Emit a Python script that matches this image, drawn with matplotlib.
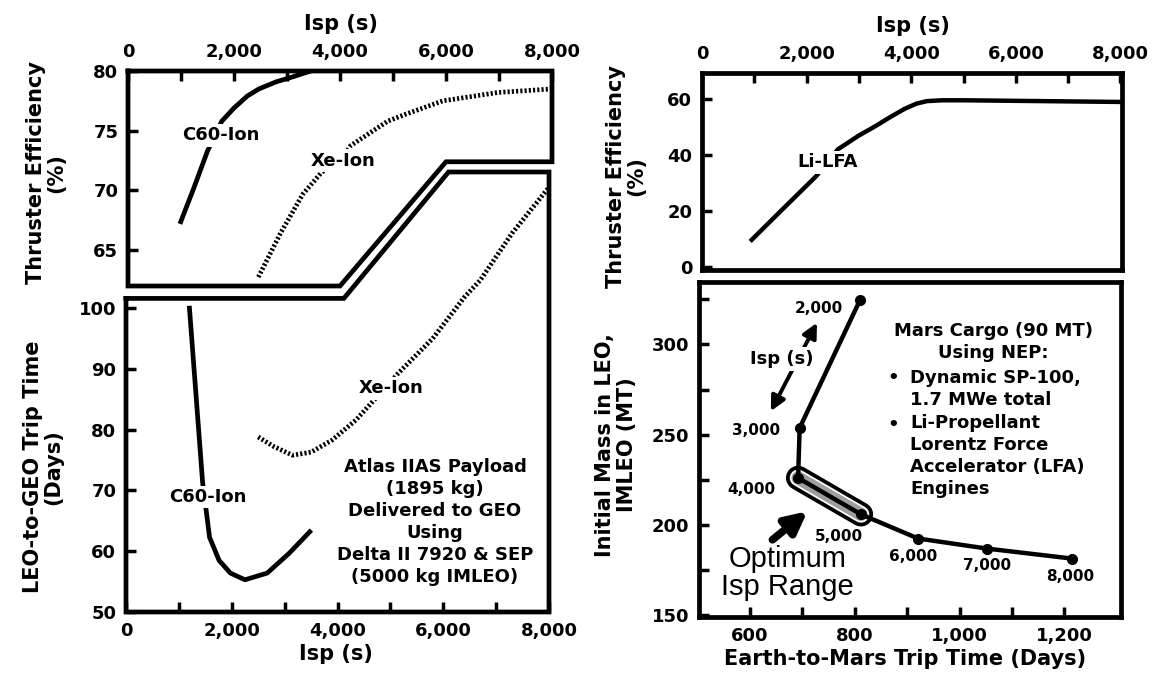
import numpy as np
import matplotlib
matplotlib.use('Agg')
import matplotlib.pyplot as plt
from matplotlib.ticker import StrMethodFormatter

W, H = 1161, 673

# Isp ticks shared by the three Isp axes
isp_major = [0, 2000, 4000, 6000, 8000]
isp_minor = [1000, 3000, 5000, 7000]

# thruster efficiency (%) vs Isp (s)
c60_eff_isp = [980, 1250, 1500, 1770, 2000, 2250, 2470, 2800, 3100, 3450]
c60_eff = [67.2, 70.3, 73.3, 75.8, 76.9, 77.9, 78.5, 79.1, 79.5, 80.0]
xe_eff_isp = [2460, 2875, 3300, 3650, 4060, 4200, 4900, 5250, 5940, 6980, 8000]
xe_eff = [62.75, 66.4, 69.7, 71.5, 72.8, 73.75, 75.8, 76.4, 77.5, 78.2, 78.5]

# LEO-to-GEO trip time (days) vs Isp (s)
c60_trip_isp = [1200, 1450, 1515, 1580, 1760, 1975, 2250, 2670, 3090, 3475]
c60_trip = [100, 71.2, 66.8, 62.3, 58.5, 56.4, 55.3, 56.4, 59.7, 63.2]
xe_trip_isp = [2500, 2800, 3150, 3500, 3900, 4350, 5150, 5800, 6400, 6700, 7300, 8000]
xe_trip = [78.8, 77.2, 75.8, 76.3, 78.3, 81.6, 89.3, 95.0, 101.8, 104.6, 112.3, 119.9]

# Li-LFA efficiency (%) vs Isp (s)
lfa_isp = [950, 1500, 2180, 2600, 3000, 3320, 3600, 3870, 4100, 4300, 4600, 5000, 6000, 7000, 8000]
lfa_eff = [9.7, 19.9, 32.4, 42.1, 47.0, 50.4, 53.6, 56.5, 58.4, 59.3, 59.6, 59.6, 59.4, 59.2, 59.0]

# Mars cargo NEP: trip time (days) and IMLEO (MT) per Isp
mars_isp = [2000, 3000, 4000, 5000, 6000, 7000, 8000]
mars_trip = [810, 695, 692, 812, 921, 1053, 1214]
mars_imleo = [324.5, 253.7, 226.0, 205.8, 192.4, 186.8, 181.3]
mars_lbl_off = [(-41, -8), (-44, -3), (-47, -12), (-22, -22), (-5, -18), (0, -17), (-2, -18)]

plt.rcParams['font.family'] = 'DejaVu Sans'
plt.rcParams['font.weight'] = 'bold'

fig = plt.figure(figsize=(W / 100.0, H / 100.0), dpi=100)


def add_ax(x0, y0, x1, y1):
    a = fig.add_axes([x0 / W, 1 - y1 / H, (x1 - x0) / W, (y1 - y0) / H])
    a.patch.set_visible(False)
    return a


def ftext(x, y, s, **kw):
    fig.text(x / W, 1 - y / H, s, **kw)


def style(a, top):
    a.tick_params(which='both', direction='in', length=7, width=2.5, labelsize=13, pad=7,
                  top=top, bottom=not top, labeltop=top, labelbottom=not top, right=False)
    for sp in a.spines.values():
        sp.set_linewidth(3.4)


lw_frame = 3.4
lbl_box = dict(facecolor='white', edgecolor='none', pad=1.5)
xe_style = (0, (0.45, 0.45))

# ---- top left: efficiency of C60 and Xe ion thrusters
ax1 = add_ax(128, 71, 552, 286)
ax1.set_xlim(0, 8000)
ax1.set_ylim(62, 80)
style(ax1, True)
ax1.set_xticks(isp_major)
ax1.set_xticks(isp_minor, minor=True)
ax1.xaxis.set_major_formatter(StrMethodFormatter('{x:,.0f}'))
ax1.set_yticks([65, 70, 75, 80])
for sp in ax1.spines.values():
    sp.set_visible(False)
# broken frame shared with the panel below
ax1.plot([0, 8000, 8000, 6000, 4000, 0, 0], [80, 80, 72.4, 72.4, 62, 62, 80],
         color='k', lw=lw_frame, clip_on=False, solid_joinstyle='miter')
ax1.plot(c60_eff_isp, c60_eff, color='k', lw=3.4, solid_capstyle='butt')
ax1.plot(xe_eff_isp, xe_eff, color='k', lw=3.4, linestyle=xe_style)
ax1.text(1750, 74.6, 'C60-Ion', fontsize=13, ha='center', va='center', bbox=lbl_box)
ax1.text(4060, 72.5, 'Xe-Ion', fontsize=13, ha='center', va='center', bbox=lbl_box)

# ---- bottom left: LEO-to-GEO trip time
ax2 = add_ax(126, 172, 549, 612)
ax2.set_xlim(0, 8000)
ax2.set_ylim(50, 122.4)
style(ax2, False)
ax2.set_xticks(isp_major)
ax2.set_xticks(isp_minor, minor=True)
ax2.xaxis.set_major_formatter(StrMethodFormatter('{x:,.0f}'))
ax2.set_yticks([50, 60, 70, 80, 90, 100])
for sp in ax2.spines.values():
    sp.set_visible(False)
ax2.plot([0, 4120, 6100, 8000, 8000, 0, 0], [101.6, 101.6, 122.4, 122.4, 50, 50, 101.6],
         color='k', lw=lw_frame, clip_on=False, solid_joinstyle='miter')
ax2.plot(c60_trip_isp, c60_trip, color='k', lw=3.4)
ax2.plot(xe_trip_isp, xe_trip, color='k', lw=3.4, linestyle=xe_style)
ax2.text(1550, 68.9, 'C60-Ion', fontsize=13, ha='center', va='center', bbox=lbl_box)
ax2.text(5010, 86.8, 'Xe-Ion', fontsize=13, ha='center', va='center', bbox=lbl_box)

ftext(435, 522, 'Atlas IIAS Payload\n(1895 kg)\nDelivered to GEO\nUsing\nDelta II 7920 & SEP\n(5000 kg IMLEO)',
      fontsize=13, ha='center', va='center', linespacing=1.3)

ftext(341, 24, 'Isp (s)', fontsize=15, ha='center', va='center')
ftext(336, 654, 'Isp (s)', fontsize=15, ha='center', va='center')
ftext(46, 173, 'Thruster Efficiency\n(%)', fontsize=15, rotation=90, ha='center', va='center',
      multialignment='center', linespacing=1.0)
ftext(43, 467, 'LEO-to-GEO Trip Time\n(Days)', fontsize=15, rotation=90, ha='center', va='center',
      multialignment='center', linespacing=1.0)

# ---- top right: Li-LFA efficiency
ax3 = add_ax(702, 73, 1122, 270)
ax3.set_xlim(0, 8030)
ax3.set_ylim(-1.08, 69.35)
style(ax3, True)
ax3.set_xticks(isp_major)
ax3.set_xticks(isp_minor, minor=True)
ax3.xaxis.set_major_formatter(StrMethodFormatter('{x:,.0f}'))
ax3.set_yticks([0, 20, 40, 60])
ax3.plot(lfa_isp, lfa_eff, color='k', lw=3.2)
ax3.text(2410, 37.4, 'Li-LFA', fontsize=13, ha='center', va='center', bbox=lbl_box)

ftext(913, 26, 'Isp (s)', fontsize=15, ha='center', va='center')
ftext(626, 176, 'Thruster Efficiency\n(%)', fontsize=15, rotation=90, ha='center', va='center',
      multialignment='center', linespacing=1.0)

# ---- bottom right: Mars cargo IMLEO vs trip time
ax4 = add_ax(699, 282, 1121, 617)
ax4.set_xlim(503, 1308)
ax4.set_ylim(148.9, 334.6)
style(ax4, False)
ax4.set_xticks([600, 800, 1000, 1200])
ax4.set_xticks([700, 900, 1100], minor=True)
ax4.xaxis.set_major_formatter(StrMethodFormatter('{x:,.0f}'))
ax4.set_yticks([150, 200, 250, 300])
ax4.set_yticks([175, 225, 275, 325], minor=True)

# optimum Isp range (4000-5000 s) highlighted as a stippled capsule
ax4.plot(mars_trip[2:4], mars_imleo[2:4], color='k', lw=17.5, solid_capstyle='round', zorder=2)
ax4.plot(mars_trip[2:4], mars_imleo[2:4], color='white', lw=12.0, solid_capstyle='round', zorder=2)
ax4.plot(mars_trip[2:4], mars_imleo[2:4], color='#9e9e9e', lw=9.5, solid_capstyle='round', zorder=2)

ax4.plot(mars_trip, mars_imleo, color='k', lw=3.2, marker='o', markersize=7, zorder=3)
for t, m, isp, off in zip(mars_trip, mars_imleo, mars_isp, mars_lbl_off):
    ax4.annotate('{:,}'.format(isp), (t, m), xytext=(off[0] * 0.72, off[1] * 0.72),
                 textcoords='offset points', fontsize=11, ha='center', va='center')

ax4.annotate('', xy=(640, 263), xytext=(728, 312),
             arrowprops=dict(arrowstyle='<|-|>', lw=2.8, color='k', mutation_scale=22, shrinkA=0, shrinkB=0))
ax4.text(661, 292, 'Isp (s)', fontsize=13, ha='center', va='center', bbox=dict(facecolor='white', edgecolor='none', pad=2))
ax4.annotate('', xy=(710, 207.5), xytext=(643, 191.7),
             arrowprops=dict(arrowstyle='-|>', lw=5.5, color='k', mutation_scale=32, shrinkA=0, shrinkB=0))
ax4.text(671, 173.5, 'Optimum\nIsp Range', family='Liberation Sans', fontweight='normal', fontsize=21,
         ha='center', va='center', linespacing=1.0)

ftext(993, 322, 'Mars Cargo (90 MT)\nUsing NEP:', fontsize=13, ha='center', va='top', linespacing=1.3)
rows = [322 + 23.6 * i for i in range(8)]
ftext(893, rows[2], '\u2022', fontsize=13, ha='center', va='top')
ftext(893, rows[4], '\u2022', fontsize=13, ha='center', va='top')
ftext(910, rows[2], 'Dynamic SP-100,\n1.7 MWe total\nLi-Propellant\nLorentz Force\nAccelerator (LFA)\nEngines',
      fontsize=13, ha='left', va='top', linespacing=1.3)

ftext(905, 659, 'Earth-to-Mars Trip Time (Days)', fontsize=15, ha='center', va='center')
ftext(616, 445, 'Initial Mass in LEO,\nIMLEO (MT)', fontsize=15, rotation=90, ha='center', va='center',
      multialignment='center', linespacing=1.15)

fig.savefig('out.png', dpi=100)
